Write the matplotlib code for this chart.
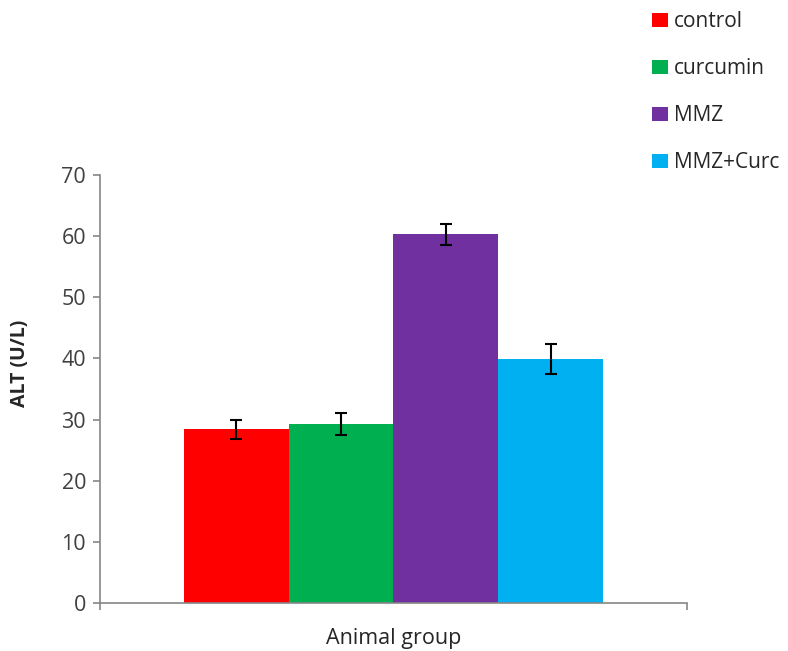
import matplotlib.pyplot as plt
import numpy as np

groups = ['control', 'curcumin', 'MMZ', 'MMZ+Curc']
alt_mean = [28.4, 29.3, 60.3, 39.9]
alt_err = [1.5, 1.75, 1.75, 2.45]
colors = ['#FF0000', '#00B050', '#7030A0', '#00B0F0']

plt.rcParams['font.family'] = ['Open Sans', 'DejaVu Sans']

fig = plt.figure(figsize=(7.88, 6.51), dpi=100)
ax = fig.add_axes([0.1269, 0.0737, 0.7449, 0.6575])

w = 1.0
offsets = (np.arange(len(groups)) - 1.5) * w
for off, m, e, c, g in zip(offsets, alt_mean, alt_err, colors, groups):
    ax.bar(off, m, width=w, color=c, label=g, linewidth=0)
    ax.errorbar(off, m, yerr=e, color='black', capsize=4.5, elinewidth=1.5,
                capthick=1.5, fmt='none')

half = 2 * w / 0.715
ax.set_xlim(-half, half)
ax.set_ylim(0, 70)
ax.set_yticks(range(0, 71, 10))
ax.set_xticks([-half, half])
ax.set_xticklabels(['', ''])

for s in ['top', 'right']:
    ax.spines[s].set_visible(False)
for s in ['left', 'bottom']:
    ax.spines[s].set_color('#868686')
    ax.spines[s].set_linewidth(1.2)
ax.tick_params(axis='both', colors='#868686', length=5, width=1.2,
               labelsize=15.5, labelcolor='#404040', pad=5)

ax.set_ylabel('ALT (U/L)', fontsize=14, fontweight='bold', color='#262626')
ax.yaxis.set_label_coords(-0.12, 0.56)
ax.set_xlabel('Animal group', fontsize=15.5, color='#262626', labelpad=8)

fig.legend(loc='upper left', bbox_to_anchor=(0.8274, 0.983), frameon=False,
           fontsize=15, handlelength=0.75, handleheight=0.65, handletextpad=0.3,
           labelspacing=1.25, borderpad=0, borderaxespad=0, labelcolor='#262626')

fig.savefig('out.png', dpi=100)
